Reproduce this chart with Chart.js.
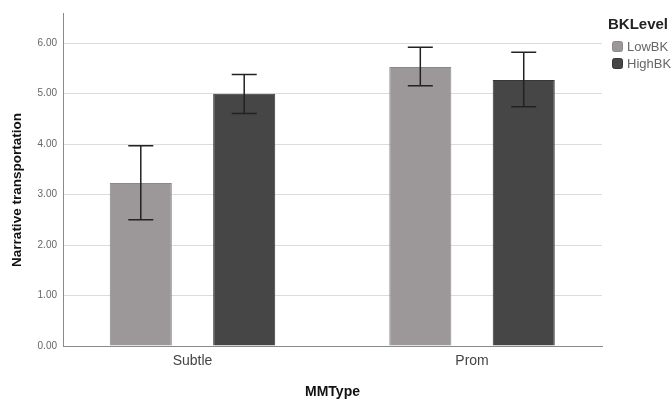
<!DOCTYPE html>
<html>
<head>
<meta charset="utf-8">
<script src="https://cdn.jsdelivr.net/npm/chart.js@4/dist/chart.umd.min.js"></script>
<style>
html,body{margin:0;padding:0;background:#fff;}
#wrap{width:671px;height:401px;position:relative;}
</style>
</head>
<body>
<div id="wrap"><canvas id="c" width="671" height="401"></canvas></div>
<script>
// ---- data ----
const categories = ['Subtle', 'Prom'];
const seriesNames = ['LowBK', 'HighBK'];
const lowBK = [3.23, 5.53];
const highBK = [5.00, 5.27];
const lowBKErrLow = [2.50, 5.16];
const lowBKErrHigh = [3.97, 5.92];
const highBKErrLow = [4.61, 4.74];
const highBKErrHigh = [5.38, 5.82];
const yTicks = [0, 1, 2, 3, 4, 5, 6];
const xTitle = 'MMType';
const yTitle = 'Narrative transportation';
const legendTitle = 'BKLevel';

const colors = ['#9c9799', '#464646'];
const borders = ['#8c8889', '#363636'];
const errLows = [lowBKErrLow, highBKErrLow];
const errHighs = [lowBKErrHigh, highBKErrHigh];

const errorBars = {
  id: 'errorBars',
  afterDatasetsDraw(chart) {
    const ctx = chart.ctx;
    const y = chart.scales.y;
    ctx.save();
    ctx.strokeStyle = '#222';
    ctx.lineWidth = 1.5;
    chart.data.datasets.forEach((ds, di) => {
      const meta = chart.getDatasetMeta(di);
      meta.data.forEach((el, i) => {
        const x = el.x;
        const yl = y.getPixelForValue(errLows[di][i]);
        const yh = y.getPixelForValue(errHighs[di][i]);
        const cap = 12.5;
        ctx.beginPath();
        ctx.moveTo(x, yl); ctx.lineTo(x, yh);
        ctx.moveTo(x - cap, yl); ctx.lineTo(x + cap, yl);
        ctx.moveTo(x - cap, yh); ctx.lineTo(x + cap, yh);
        ctx.stroke();
      });
    });
    ctx.restore();
  }
};

const extras = {
  id: 'extras',
  afterDraw(chart) {
    const ctx = chart.ctx;
    const a = chart.chartArea;
    ctx.save();
    // y title
    ctx.fillStyle = '#111';
    ctx.font = 'bold 13.5px "Liberation Sans", Arial, sans-serif';
    ctx.textAlign = 'center';
    ctx.textBaseline = 'middle';
    ctx.translate(17, 190);
    ctx.rotate(-Math.PI / 2);
    ctx.fillText(yTitle, 0, 0);
    ctx.restore();
    ctx.save();
    // x title
    ctx.fillStyle = '#111';
    ctx.font = 'bold 14px "Liberation Sans", Arial, sans-serif';
    ctx.textAlign = 'center';
    ctx.textBaseline = 'middle';
    ctx.fillText(xTitle, (a.left + a.right) / 2, 392);
    // legend
    ctx.textAlign = 'left';
    ctx.font = 'bold 15px "Liberation Sans", Arial, sans-serif';
    ctx.fillStyle = '#222';
    ctx.fillText(legendTitle, 608, 25);
    ctx.font = '13px "Liberation Sans", Arial, sans-serif';
    seriesNames.forEach((n, i) => {
      const cy = 46.5 + i * 17;
      ctx.fillStyle = colors[i];
      ctx.strokeStyle = borders[i];
      ctx.lineWidth = 1;
      ctx.beginPath();
      if (ctx.roundRect) ctx.roundRect(612.5, cy - 5, 10, 10, 2); else ctx.rect(612.5, cy - 5, 10, 10);
      ctx.fill();
      ctx.stroke();
      ctx.fillStyle = '#666';
      ctx.fillText(n, 627, cy + 1);
    });
    ctx.restore();
  }
};

const xMin = -0.4633, xMax = 1.465;

new Chart(document.getElementById('c'), {
  type: 'bar',
  data: {
    datasets: seriesNames.map((n, di) => ({
      label: n,
      data: (di === 0 ? lowBK : highBK).map((v, i) => ({ x: i, y: v })),
      backgroundColor: colors[di],
      borderColor: borders[di],
      borderWidth: 1,
      categoryPercentage: 0.74,
      barPercentage: 0.6
    }))
  },
  options: {
    responsive: false,
    animation: false,
    devicePixelRatio: 1,
    layout: { padding: { top: 13, right: 69, left: 0, bottom: 0 } },
    plugins: { legend: { display: false }, tooltip: { enabled: false } },
    scales: {
      x: {
        type: 'linear',
        offset: false,
        min: xMin,
        max: xMax,
        afterBuildTicks: s => { s.ticks = categories.map((c, i) => ({ value: i })); },
        afterFit: s => { s.height = 55; },
        grid: { display: false, drawTicks: false },
        border: { display: true, color: '#8a8a8a', width: 1 },
        ticks: {
          callback: v => categories[v],
          color: '#444',
          padding: 7,
          maxRotation: 0,
          autoSkip: false,
          font: { size: 14, family: '"Liberation Sans", Arial, sans-serif' }
        }
      },
      y: {
        min: 0,
        max: 6.6,
        afterBuildTicks: s => { s.ticks = yTicks.map(v => ({ value: v })); },
        afterFit: s => { s.width = 63; },
        grid: { color: '#dcdcdc', lineWidth: 1, drawTicks: false },
        border: { display: true, color: '#8a8a8a', width: 1 },
        ticks: {
          callback: v => v.toFixed(2),
          color: '#666',
          padding: 6,
          font: { size: 10, family: '"Liberation Sans", Arial, sans-serif' }
        }
      }
    }
  },
  plugins: [errorBars, extras]
});
</script>
</body>
</html>
